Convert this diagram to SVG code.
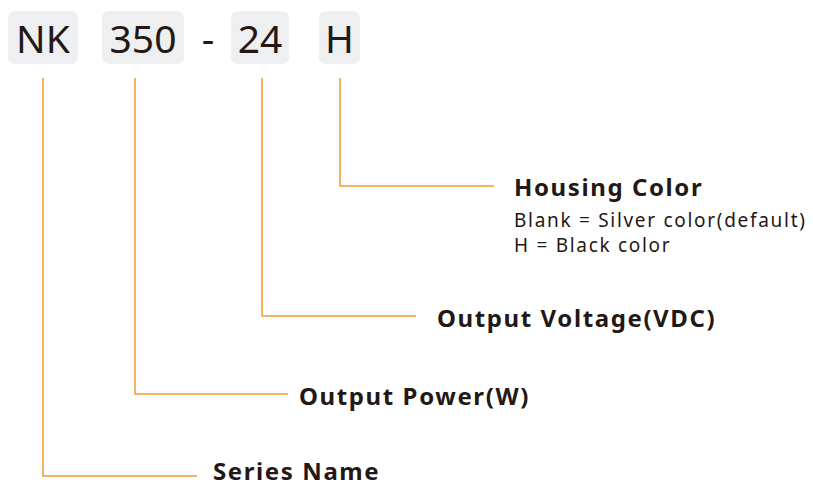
<svg xmlns="http://www.w3.org/2000/svg" width="813" height="487" viewBox="0 0 813 487">
<style>
.box{fill:#eeeff0}
.code{font-family:"Noto Sans","Liberation Sans",sans-serif;font-size:39px;fill:#231815;text-anchor:middle}
.ln{fill:none;stroke:#f39a2e;stroke-width:1.5}
.h{font-family:"Noto Sans","Liberation Sans",sans-serif;font-size:24px;font-weight:bold;fill:#231815;letter-spacing:1.6px}
.t{font-family:"Noto Sans","Liberation Sans",sans-serif;font-size:19px;fill:#231815;letter-spacing:1.7px}
</style>
<rect width="813" height="487" fill="#fff"/>
<g id="code-nk"><rect class="box" x="8" y="11" width="70" height="53" rx="7"/><text class="code" x="43" y="53">NK</text></g>
<g id="code-350"><rect class="box" x="102" y="11" width="82" height="53" rx="7"/><text class="code" x="143" y="53">350</text></g>
<g id="dash"><text class="code" x="208" y="53">-</text></g>
<g id="code-24"><rect class="box" x="231" y="11" width="58" height="53" rx="7"/><text class="code" x="260" y="53">24</text></g>
<g id="code-h"><rect class="box" x="319" y="11" width="41" height="53" rx="7"/><text class="code" x="339.5" y="53">H</text></g>
<g id="connectors">
<polyline class="ln" points="43,78 43,476 197,476"/>
<polyline class="ln" points="135,78 135,394 288,394"/>
<polyline class="ln" points="262,78 262,316 416,316"/>
<polyline class="ln" points="340,78 340,186 494,186"/>
</g>
<g id="housing-color"><text class="h" x="514" y="196">Housing Color</text>
<text class="t" x="514" y="227">Blank = Silver color(default)</text>
<text class="t" x="514" y="252">H = Black color</text></g>
<g id="output-voltage"><text class="h" x="437" y="327">Output Voltage(VDC)</text></g>
<g id="output-power"><text class="h" x="299" y="405">Output Power(W)</text></g>
<g id="series-name"><text class="h" x="213" y="480">Series Name</text></g>
</svg>
